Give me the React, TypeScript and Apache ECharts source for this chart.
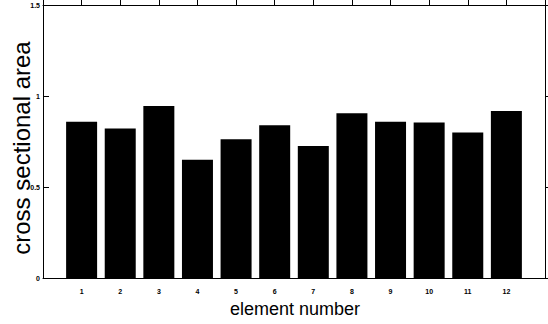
import React, { useEffect, useRef } from "react";
import * as echarts from "echarts";

const elements: number[] = [1, 2, 3, 4, 5, 6, 7, 8, 9, 10, 11, 12];
const areas: number[] = [0.859, 0.821, 0.945, 0.65, 0.762, 0.839, 0.725, 0.905, 0.859, 0.854, 0.799, 0.918];
const yTicks: number[] = [0, 0.5, 1, 1.5];
const xTitle = "element number";
const yTitle = "cross sectional area";

export default function App() {
  const ref = useRef<HTMLDivElement>(null);
  useEffect(() => {
    if (!ref.current) return;
    const chart = echarts.init(ref.current, undefined, { renderer: "svg" });
    const tickLabel = { fontSize: 7, fontWeight: "bold" as const, color: "#000", fontFamily: "Liberation Sans" };
    const axisLine = { show: true, onZero: false, lineStyle: { color: "#000", width: 1 } };
    chart.setOption({
      animation: false,
      backgroundColor: "#fff",
      grid: { left: 43, right: 3, top: 5, bottom: 46, containLabel: false },
      xAxis: [
        {
          type: "value",
          min: 0,
          max: 13,
          interval: 1,
          position: "bottom",
          axisLine,
          axisTick: { show: false },
          splitLine: { show: false },
          axisLabel: {
            ...tickLabel,
            margin: 10,
            formatter: (v: number) => (elements.includes(v) ? String(v) : ""),
          },
        },
        {
          type: "value",
          min: 0,
          max: 13,
          interval: 1,
          position: "top",
          axisLine,
          axisTick: { show: true, inside: false, length: 6, lineStyle: { color: "#000" } },
          splitLine: { show: false },
          axisLabel: { show: false },
        },
      ],
      yAxis: [
        {
          type: "value",
          min: yTicks[0],
          max: yTicks[yTicks.length - 1],
          interval: 0.5,
          position: "left",
          axisLine,
          axisTick: { show: true, inside: true, length: 6, lineStyle: { color: "#000" } },
          splitLine: { show: false },
          axisLabel: { ...tickLabel, margin: 3, formatter: (v: number) => String(v) },
        },
        {
          type: "value",
          min: yTicks[0],
          max: yTicks[yTicks.length - 1],
          interval: 0.5,
          position: "right",
          axisLine,
          axisTick: { show: true, inside: false, length: 6, lineStyle: { color: "#000" } },
          splitLine: { show: false },
          axisLabel: { show: false },
        },
      ],
      series: [
        {
          type: "bar",
          xAxisIndex: 0,
          yAxisIndex: 0,
          barWidth: 31,
          itemStyle: { color: "#000" },
          data: elements.map((e, i) => [e, areas[i]]),
        },
      ],
      graphic: [
        {
          type: "text",
          x: 33,
          y: 148,
          rotation: Math.PI / 2,
          style: {
            text: yTitle,
            font: "24px 'Liberation Sans', Arial, sans-serif",
            fill: "#000",
            textAlign: "center",
            textVerticalAlign: "bottom",
          },
        },
        {
          type: "text",
          x: 295,
          y: 318,
          style: {
            text: xTitle,
            font: "18px 'Liberation Sans', Arial, sans-serif",
            fill: "#000",
            textAlign: "center",
            textVerticalAlign: "bottom",
          },
        },
      ],
    });
    return () => chart.dispose();
  }, []);
  return <div ref={ref} style={{ width: 548, height: 324, position: "absolute", left: 0, top: 0 }} />;
}
